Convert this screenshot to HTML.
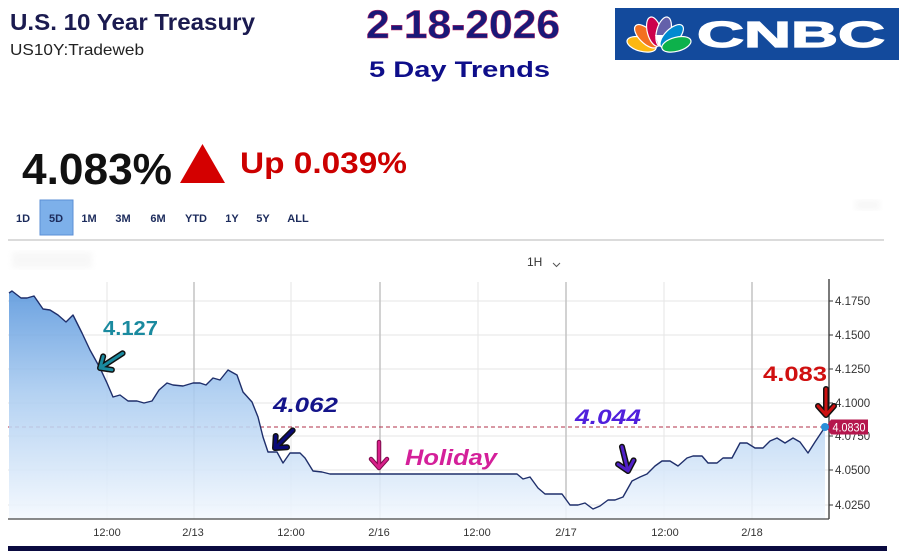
<!DOCTYPE html>
<html><head><meta charset="utf-8"><style>
html,body{margin:0;padding:0;background:#fff;}
svg{display:block;}
text{font-family:"Liberation Sans",Arial,sans-serif;}
</style></head><body>
<svg width="900" height="560" viewBox="0 0 900 560" xmlns="http://www.w3.org/2000/svg">
<defs>
<linearGradient id="fillg" gradientUnits="userSpaceOnUse" x1="0" y1="290" x2="0" y2="519">
<stop offset="0" stop-color="#5795dc"/>
<stop offset="0.45" stop-color="#a9cbf0"/>
<stop offset="1" stop-color="#f3f8fe"/>
</linearGradient>
<filter id="blur"><feGaussianBlur stdDeviation="3"/></filter>
</defs>
<rect width="900" height="560" fill="#fff"/>

<!-- header -->
<text x="10" y="30" font-size="23" font-weight="bold" fill="#1b1b50" textLength="245" lengthAdjust="spacingAndGlyphs">U.S. 10 Year Treasury</text>
<text x="10" y="55" font-size="16" fill="#222" textLength="134" lengthAdjust="spacingAndGlyphs">US10Y:Tradeweb</text>
<text x="366" y="38" font-size="40" font-weight="bold" fill="#1a1878" stroke="#c8306a" stroke-width="0.5" textLength="194" lengthAdjust="spacingAndGlyphs">2-18-2026</text>
<text x="369" y="77" font-size="22" font-weight="bold" fill="#0e0e8a" textLength="181" lengthAdjust="spacingAndGlyphs">5 Day Trends</text>

<!-- CNBC logo -->
<rect x="615" y="8" width="284" height="52" fill="#134a9c"/>
<g transform="translate(659,49)" stroke="#fff" stroke-width="1.2">
<ellipse cx="0" cy="-18" rx="7" ry="15" fill="#fcb711" transform="rotate(-75)"/>
<ellipse cx="0" cy="-18" rx="7" ry="15" fill="#f37021" transform="rotate(-45)"/>
<ellipse cx="0" cy="-18" rx="7" ry="15" fill="#cc004c" transform="rotate(-15)"/>
<ellipse cx="0" cy="-18" rx="7" ry="15" fill="#6460aa" transform="rotate(15)"/>
<ellipse cx="0" cy="-18" rx="7" ry="15" fill="#0089d0" transform="rotate(45)"/>
<ellipse cx="0" cy="-18" rx="7" ry="15" fill="#0db14b" transform="rotate(75)"/>
<path d="M-4,-14 L0,-2 L4,-14 Z" fill="#fff" stroke="none"/>
</g>
<text x="697" y="47" font-size="36" font-weight="bold" fill="#fff" stroke="#fff" stroke-width="1.2" textLength="188" lengthAdjust="spacingAndGlyphs">CNBC</text>

<!-- price -->
<text x="22" y="184" font-size="44" font-weight="bold" fill="#111" textLength="150" lengthAdjust="spacingAndGlyphs">4.083%</text>
<polygon points="180,183 225,183 202.5,144" fill="#d40000"/>
<text x="240" y="173" font-size="30" font-weight="bold" fill="#cc0000" textLength="167" lengthAdjust="spacingAndGlyphs">Up 0.039%</text>

<!-- range buttons -->
<rect x="40" y="200" width="33" height="35" fill="#7db0ea" stroke="#5b8fd6" stroke-width="1"/>
<g font-size="11" font-weight="bold" fill="#1c2b5c" text-anchor="middle">
<text x="23" y="222">1D</text>
<text x="56" y="222">5D</text>
<text x="89" y="222">1M</text>
<text x="123" y="222">3M</text>
<text x="158" y="222">6M</text>
<text x="196" y="222">YTD</text>
<text x="232" y="222">1Y</text>
<text x="263" y="222">5Y</text>
<text x="298" y="222">ALL</text>
</g>
<line x1="8" y1="240" x2="884" y2="240" stroke="#cfcfcf" stroke-width="1.5"/>

<!-- faint blurs -->
<rect x="12" y="252" width="80" height="16" fill="#ececec" filter="url(#blur)" opacity="0.4"/>
<rect x="855" y="200" width="25" height="10" fill="#ececec" filter="url(#blur)" opacity="0.4"/>

<!-- 1H selector -->
<text x="527" y="266" font-size="12" fill="#333">1H</text>
<polyline points="553,263 556.5,266.5 560,263" fill="none" stroke="#555" stroke-width="1"/>

<!-- grid -->
<g stroke="#e6e6e6" stroke-width="1">
<line x1="8" y1="301" x2="829" y2="301"/>
<line x1="8" y1="335" x2="829" y2="335"/>
<line x1="8" y1="369" x2="829" y2="369"/>
<line x1="8" y1="403" x2="829" y2="403"/>
<line x1="8" y1="436" x2="829" y2="436"/>
<line x1="8" y1="470" x2="829" y2="470"/>
<line x1="8" y1="505" x2="829" y2="505"/>
<line x1="107" y1="282" x2="107" y2="519"/>
<line x1="291" y1="282" x2="291" y2="519"/>
<line x1="478" y1="282" x2="478" y2="519"/>
<line x1="664" y1="282" x2="664" y2="519"/>
</g>
<g stroke="#c6c6c6" stroke-width="1.6">
<line x1="194" y1="282" x2="194" y2="519"/>
<line x1="380" y1="282" x2="380" y2="519"/>
<line x1="566" y1="282" x2="566" y2="519"/>
<line x1="752" y1="282" x2="752" y2="519"/>
</g>

<!-- dashed line -->
<line x1="8" y1="427" x2="826" y2="427" stroke="#b0304a" stroke-width="1" stroke-dasharray="4,3"/>

<!-- area -->
<path fill="url(#fillg)" fill-opacity="0.88" d="M9,293 L12,291 L21,298 L27,298 L34,296 L43,309 L50,310 L58,315 L66,322 L73,315 L82,333 L90,350 L100,368 L107,383 L113,397 L120,395 L128,401 L137,401 L144,403 L152,401 L159,390 L167,383 L173,385 L183,386 L193,383 L200,383 L206,385 L213,378 L220,380 L228,370 L237,375 L243,392 L252,402 L258,417 L263,437 L268,452 L277,452 L283,463 L290,453 L300,453 L305,458 L313,471 L322,472 L330,474 L517,474 L523,479 L530,477 L538,488 L545,494 L562,494 L570,505 L578,505 L585,503 L593,509 L600,506 L608,500 L615,500 L623,497 L632,481 L640,477 L647,474 L655,466 L662,461 L670,461 L678,466 L687,458 L693,456 L702,456 L708,463 L717,463 L723,458 L732,458 L740,443 L747,443 L755,448 L763,448 L770,441 L777,438 L785,443 L793,438 L800,442 L808,453 L815,442 L825,427 L825,519 L9,519 Z"/>
<path fill="none" stroke="#1f2f6b" stroke-width="1.4" stroke-linejoin="round" d="M9,293 L12,291 L21,298 L27,298 L34,296 L43,309 L50,310 L58,315 L66,322 L73,315 L82,333 L90,350 L100,368 L107,383 L113,397 L120,395 L128,401 L137,401 L144,403 L152,401 L159,390 L167,383 L173,385 L183,386 L193,383 L200,383 L206,385 L213,378 L220,380 L228,370 L237,375 L243,392 L252,402 L258,417 L263,437 L268,452 L277,452 L283,463 L290,453 L300,453 L305,458 L313,471 L322,472 L330,474 L517,474 L523,479 L530,477 L538,488 L545,494 L562,494 L570,505 L578,505 L585,503 L593,509 L600,506 L608,500 L615,500 L623,497 L632,481 L640,477 L647,474 L655,466 L662,461 L670,461 L678,466 L687,458 L693,456 L702,456 L708,463 L717,463 L723,458 L732,458 L740,443 L747,443 L755,448 L763,448 L770,441 L777,438 L785,443 L793,438 L800,442 L808,453 L815,442 L825,427"/>

<!-- axes -->
<line x1="829" y1="279" x2="829" y2="519" stroke="#333" stroke-width="1.3"/>
<line x1="8" y1="519" x2="829" y2="519" stroke="#444" stroke-width="1.3"/>
<g stroke="#333" stroke-width="1">
<line x1="829" y1="301" x2="833" y2="301"/>
<line x1="829" y1="335" x2="833" y2="335"/>
<line x1="829" y1="369" x2="833" y2="369"/>
<line x1="829" y1="403" x2="833" y2="403"/>
<line x1="829" y1="436" x2="833" y2="436"/>
<line x1="829" y1="470" x2="833" y2="470"/>
<line x1="829" y1="505" x2="833" y2="505"/>
</g>
<g font-size="11.5" fill="#333">
<text x="835" y="305">4.1750</text>
<text x="835" y="339">4.1500</text>
<text x="835" y="373">4.1250</text>
<text x="835" y="407">4.1000</text>
<text x="835" y="440">4.0750</text>
<text x="835" y="474">4.0500</text>
<text x="835" y="509">4.0250</text>
</g>
<g font-size="11" fill="#333" text-anchor="middle">
<text x="107" y="536">12:00</text>
<text x="193" y="536">2/13</text>
<text x="291" y="536">12:00</text>
<text x="379" y="536">2/16</text>
<text x="477" y="536">12:00</text>
<text x="566" y="536">2/17</text>
<text x="665" y="536">12:00</text>
<text x="752" y="536">2/18</text>
</g>

<!-- price tag -->
<polygon points="826,427 831,419.5 868,419.5 868,434.5 831,434.5" fill="#b5174d"/>
<text x="832.5" y="431.5" font-size="12" fill="#fff" textLength="33" lengthAdjust="spacingAndGlyphs">4.0830</text>
<circle cx="825" cy="427" r="4" fill="#2a8fd8"/>

<!-- annotations -->
<text x="103" y="335" font-size="20" font-weight="bold" fill="#1a8a9f" textLength="55" lengthAdjust="spacingAndGlyphs">4.127</text>
<text x="273" y="412" font-size="21" font-weight="bold" font-style="italic" fill="#14148a" textLength="65" lengthAdjust="spacingAndGlyphs">4.062</text>
<text x="405" y="465" font-size="22" font-weight="bold" font-style="italic" fill="#d4209a" textLength="92" lengthAdjust="spacingAndGlyphs">Holiday</text>
<text x="575" y="424" font-size="21" font-weight="bold" font-style="italic" fill="#5020dc" textLength="66" lengthAdjust="spacingAndGlyphs">4.044</text>
<text x="763" y="381" font-size="21" font-weight="bold" fill="#d01010" textLength="64" lengthAdjust="spacingAndGlyphs">4.083</text>

<!-- arrows -->
<g stroke-linecap="round" stroke-linejoin="round" fill="none">
<g transform="translate(100,368) rotate(147)">
<path d="M-27,0 L0,0 M-9,-8 L0,0 L-9,8" stroke="#111" stroke-width="6"/>
<path d="M-27,0 L0,0 M-9,-8 L0,0 L-9,8" stroke="#1a8a9f" stroke-width="3"/>
</g>
<g transform="translate(275,448) rotate(135)">
<path d="M-25,0 L0,0 M-9,-8 L0,0 L-9,8" stroke="#111" stroke-width="6"/>
<path d="M-25,0 L0,0 M-9,-8 L0,0 L-9,8" stroke="#0a0a78" stroke-width="3"/>
</g>
<g transform="translate(379,468) rotate(90)">
<path d="M-26,0 L0,0 M-9,-8 L0,0 L-9,8" stroke="#7a0a4a" stroke-width="4.5"/>
<path d="M-26,0 L0,0 M-9,-8 L0,0 L-9,8" stroke="#d8208a" stroke-width="2.5"/>
</g>
<g transform="translate(628,471) rotate(76)">
<path d="M-25,0 L0,0 M-9,-8 L0,0 L-9,8" stroke="#111" stroke-width="6"/>
<path d="M-25,0 L0,0 M-9,-8 L0,0 L-9,8" stroke="#5020c8" stroke-width="3"/>
</g>
<g transform="translate(826,415) rotate(90)">
<path d="M-26,0 L0,0 M-9,-8 L0,0 L-9,8" stroke="#111" stroke-width="6"/>
<path d="M-26,0 L0,0 M-9,-8 L0,0 L-9,8" stroke="#cc1010" stroke-width="3"/>
</g>
</g>

<!-- bottom bar -->
<rect x="8" y="546" width="879" height="5" fill="#0a0a40"/>
</svg>
</body></html>
